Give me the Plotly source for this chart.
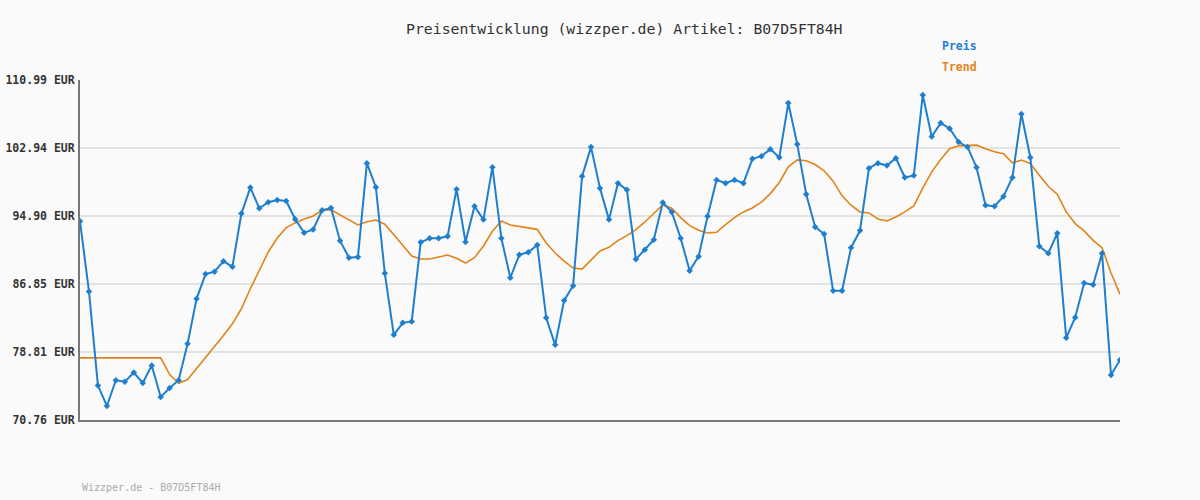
import plotly.graph_objects as go

price = [94.27, 85.97, 74.83, 72.42, 75.46, 75.30, 76.37, 75.15, 77.20, 73.49,
         74.55, 75.46, 79.77, 85.10, 88.03, 88.31, 89.53, 88.90, 95.18, 98.26,
         95.81, 96.53, 96.80, 96.68, 94.51, 92.93, 93.29, 95.58, 95.85, 91.98,
         89.97, 90.04, 101.15, 98.30, 88.11, 80.84, 82.26, 82.42, 91.78, 92.26,
         92.26, 92.49, 98.07, 91.82, 96.05, 94.47, 100.68, 92.26, 87.59, 90.32,
         90.60, 91.47, 82.85, 79.65, 84.91, 86.65, 99.61, 103.05, 98.19, 94.47,
         98.78, 97.99, 89.77, 90.91, 92.10, 96.49, 95.38, 92.26, 88.42, 90.12,
         94.87, 99.17, 98.78, 99.17, 98.78, 101.66, 101.98, 102.81, 101.82, 108.26,
         103.40, 97.47, 93.60, 92.77, 86.05, 86.05, 91.15, 93.17, 100.56, 101.15,
         100.87, 101.74, 99.45, 99.69, 109.21, 104.31, 105.89, 105.26, 103.64, 103.05,
         100.64, 96.17, 96.05, 97.20, 99.45, 106.96, 101.82, 91.31, 90.48, 92.85,
         80.48, 82.89, 86.96, 86.76, 90.48, 76.09, 77.87]

trend = [78.11, 78.11, 78.11, 78.11, 78.11, 78.11, 78.11, 78.11, 78.11, 78.11,
         76.13, 75.11, 75.54, 76.81, 78.11, 79.45, 80.76, 82.14, 83.92, 86.29,
         88.46, 90.64, 92.30, 93.52, 94.08, 94.55, 94.91, 95.58, 95.62, 95.02,
         94.39, 93.84, 94.23, 94.43, 93.92, 92.61, 91.43, 90.16, 89.81, 89.81,
         90.00, 90.28, 89.89, 89.33, 89.97, 91.35, 93.09, 94.31, 93.84, 93.64,
         93.52, 93.32, 91.70, 90.52, 89.57, 88.74, 88.62, 89.65, 90.76, 91.19,
         91.98, 92.57, 93.29, 94.19, 95.18, 96.21, 95.81, 94.71, 93.76, 93.21,
         92.89, 92.97, 93.88, 94.71, 95.38, 95.85, 96.53, 97.55, 98.86, 100.71,
         101.54, 101.43, 100.99, 100.24, 99.02, 97.28, 96.17, 95.38, 95.26, 94.55,
         94.31, 94.79, 95.38, 96.09, 98.19, 100.12, 101.58, 102.85, 103.20, 103.28,
         103.28, 102.85, 102.49, 102.26, 101.19, 101.51, 101.11, 99.73, 98.42, 97.47,
         95.38, 94.00, 93.13, 92.02, 91.15, 88.15, 85.62]

tick_vals = [70.76, 78.81, 86.85, 94.90, 102.94, 110.99]
tick_text = [f"{v:.2f} EUR" for v in tick_vals]

x = list(range(len(price)))

BLUE = "#1f7fcf"
ORANGE = "#e2831a"
MONO = "DejaVu Sans Mono"

fig = go.Figure()
fig.add_trace(go.Scatter(x=x, y=trend, mode="lines", name="Trend",
                         line=dict(color=ORANGE, width=1.6), hoverinfo="skip"))
fig.add_trace(go.Scatter(x=x, y=price, mode="lines+markers", name="Preis",
                         line=dict(color=BLUE, width=2),
                         marker=dict(symbol="diamond", size=5, color=BLUE)))

fig.update_layout(
    width=1200, height=500,
    margin=dict(l=80, r=80, t=80, b=80, autoexpand=False),
    paper_bgcolor="#fafafa", plot_bgcolor="#fafafa",
    showlegend=False,
    xaxis=dict(range=[0, len(price) - 1], showgrid=False, zeroline=False,
               showticklabels=False, ticks="", showline=True, automargin=False,
               linecolor="#777777", linewidth=2),
    yaxis=dict(range=[70.76, 110.99], tickvals=tick_vals, ticktext=tick_text,
               showgrid=True, gridcolor="#e3e3e3", gridwidth=2, zeroline=False,
               showline=True, linecolor="#777777", linewidth=2, ticks="",
               ticklabelstandoff=1, automargin=False,
               tickfont=dict(family=MONO, size=11.5, color="#333333", weight="bold")),
    annotations=[
        dict(text="Preisentwicklung (wizzper.de) Artikel: B07D5FT84H",
             xref="paper", yref="paper", x=(624 - 80) / 1040, y=1 + 52 / 340,
             xanchor="center", yanchor="middle", showarrow=False,
             font=dict(family=MONO, size=14.8, color="#333333")),
        dict(text="<b>Preis</b>", xref="paper", yref="paper",
             x=(940 - 80) / 1040, y=1 + 34 / 340, xanchor="left", yanchor="middle",
             showarrow=False, font=dict(family=MONO, size=11.5, color=BLUE)),
        dict(text="<b>Trend</b>", xref="paper", yref="paper",
             x=(940 - 80) / 1040, y=1 + 13 / 340, xanchor="left", yanchor="middle",
             showarrow=False, font=dict(family=MONO, size=11.5, color=ORANGE)),
        dict(text="Wizzper.de - B07D5FT84H", xref="paper", yref="paper",
             x=0, y=-67 / 340, xanchor="left", yanchor="middle",
             showarrow=False, font=dict(family=MONO, size=10, color="#aaaaaa")),
    ],
)

fig.write_html("out.html")
